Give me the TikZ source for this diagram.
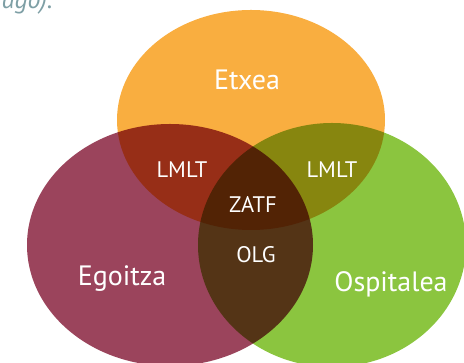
\documentclass[tikz,border=0pt]{standalone}
\usepackage{fontspec}
\setmainfont{PT Sans}
\usetikzlibrary{shapes.geometric}
\definecolor{etxeaorange}{HTML}{F9AE40}
\definecolor{egoitzamaroon}{HTML}{9B445C}
\definecolor{ospitaleagreen}{HTML}{8BC53F}
\definecolor{notegray}{HTML}{7E9FA5}

\begin{document}
\begin{tikzpicture}[
    x=1pt, y=1pt,
    set/.style={ellipse, inner sep=0pt},
    biglabel/.style={text=white, anchor=base, font=\fontsize{28}{31}\selectfont},
    smalllabel/.style={text=white, anchor=base, font=\fontsize{22.5}{26}\selectfont},
]
\useasboundingbox (0,0) rectangle (464,363);
\clip (0,0) rectangle (464,363);

% leftover of the caption above
\node[anchor=base east, text=notegray, font=\itshape\fontsize{26}{30}\selectfont] (caption) at (56,354) {ago).};

% the three sets, multiplied where they overlap
\begin{scope}[blend mode=multiply]
\node[set, fill=etxeaorange, minimum width=268, minimum height=220] (etxea) at (251,243) {};
\node[set, fill=egoitzamaroon, minimum width=286, minimum height=242] (egoitza) at (170,118) {};
\node[set, fill=ospitaleagreen, minimum width=268, minimum height=244] (ospitalea) at (332,118) {};
\end{scope}

\node[biglabel] (etxealabel) at (247,273) {Etxea};
\node[biglabel] (egoitzalabel) at (122,77) {Egoitza};
\node[biglabel] (ospitalealabel) at (391,71) {Ospitalea};

\node[smalllabel] (lmltleft) at (182,185) {LMLT};
\node[smalllabel] (lmltright) at (332,185) {LMLT};
\node[smalllabel] (zatf) at (253,150) {ZATF};
\node[smalllabel] (olg) at (256,100) {OLG};

\end{tikzpicture}
\end{document}
